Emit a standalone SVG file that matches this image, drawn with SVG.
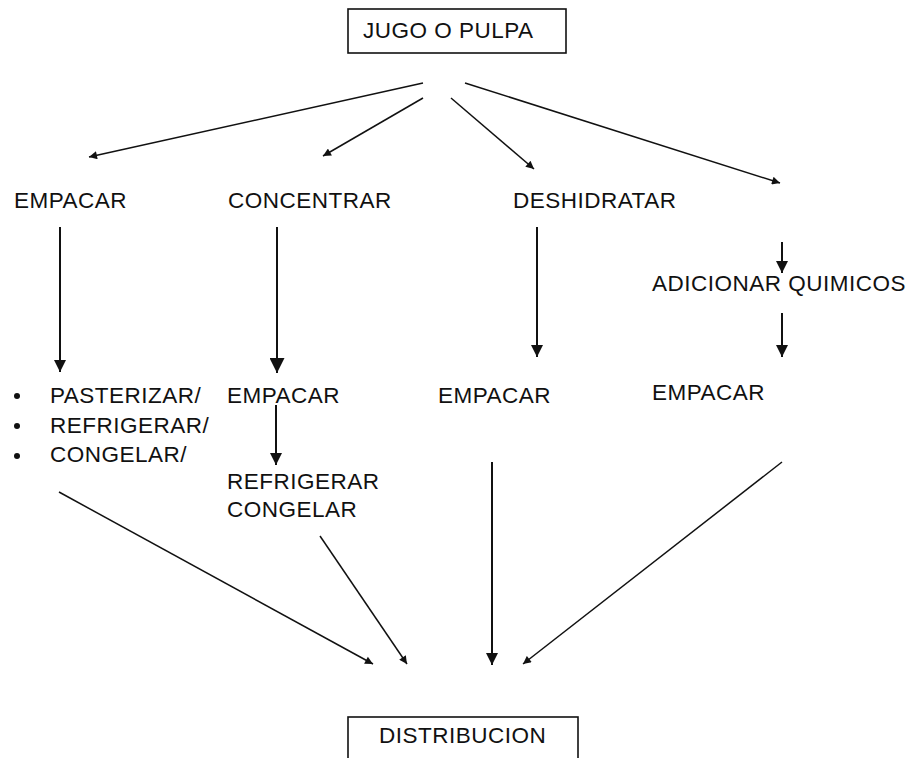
<svg xmlns="http://www.w3.org/2000/svg" width="917" height="758" viewBox="0 0 917 758">
<style>
text{font-family:"Liberation Sans",Arial,sans-serif;font-size:22.5px;letter-spacing:0.5px;fill:#111}
.box{fill:#fff;stroke:#111;stroke-width:1.6}
.c{stroke:#111;stroke-width:1.5;fill:none}
.v{stroke:#111;stroke-width:2;fill:none}
</style>
<defs>
<marker id="ah" viewBox="0 0 10 10" refX="10" refY="5" markerUnits="userSpaceOnUse" markerWidth="9" markerHeight="8" orient="auto"><path d="M0,0 L10,5 L0,10 z" fill="#111"/></marker>
<marker id="ahm" viewBox="0 0 10 10" refX="10" refY="5" markerUnits="userSpaceOnUse" markerWidth="12" markerHeight="12" orient="auto"><path d="M0,0 L10,5 L0,10 z" fill="#111"/></marker>
<marker id="ahl" viewBox="0 0 10 10" refX="10" refY="5" markerUnits="userSpaceOnUse" markerWidth="16" markerHeight="15" orient="auto"><path d="M0,0 L10,5 L0,10 z" fill="#111"/></marker>
</defs>
<rect width="917" height="758" fill="#fff"/>
<g id="connectors">
<line class="c" x1="423" y1="83" x2="89" y2="157" marker-end="url(#ah)"/>
<line class="c" x1="423" y1="98" x2="323" y2="156" marker-end="url(#ah)"/>
<line class="c" x1="451" y1="98" x2="534" y2="169" marker-end="url(#ah)"/>
<line class="c" x1="465" y1="83" x2="780" y2="183" marker-end="url(#ah)"/>
<line class="v" x1="60" y1="227" x2="60" y2="372" marker-end="url(#ahm)"/>
<line class="v" x1="277" y1="227" x2="277" y2="373" marker-end="url(#ahl)"/>
<line class="v" x1="537" y1="227" x2="537" y2="357" marker-end="url(#ahm)"/>
<line class="v" x1="782" y1="242" x2="782" y2="273" marker-end="url(#ahm)"/>
<line class="v" x1="782" y1="313" x2="782" y2="357" marker-end="url(#ahm)"/>
<line class="v" x1="276" y1="405" x2="276" y2="465" marker-end="url(#ahm)"/>
<line class="c" x1="59" y1="492" x2="373" y2="664" marker-end="url(#ah)"/>
<line class="c" x1="320" y1="536" x2="407" y2="664" marker-end="url(#ah)"/>
<line class="v" x1="492" y1="462" x2="492" y2="665" marker-end="url(#ahm)"/>
<line class="c" x1="782" y1="462" x2="523" y2="664" marker-end="url(#ah)"/>
</g>
<g id="jugo"><rect class="box" x="348" y="9" width="218" height="44"/><text x="363" y="38">JUGO O PULPA</text></g>
<g id="empacar1"><text x="14" y="208">EMPACAR</text></g>
<g id="concentrar"><text x="228" y="208">CONCENTRAR</text></g>
<g id="deshidratar"><text x="513" y="208">DESHIDRATAR</text></g>
<g id="adicionar"><text x="652" y="291">ADICIONAR QUIMICOS</text></g>
<g id="tratamientos">
<circle cx="17" cy="396" r="3" fill="#111"/><circle cx="17" cy="426" r="3" fill="#111"/><circle cx="17" cy="456" r="3" fill="#111"/>
<text x="50" y="403">PASTERIZAR/</text><text x="50" y="433">REFRIGERAR/</text><text x="50" y="462">CONGELAR/</text>
</g>
<g id="empacar2"><text x="227" y="403">EMPACAR</text></g>
<g id="empacar3"><text x="438" y="403">EMPACAR</text></g>
<g id="empacar4"><text x="652" y="400">EMPACAR</text></g>
<g id="refrigerar"><text x="227" y="489">REFRIGERAR</text><text x="227" y="517">CONGELAR</text></g>
<g id="distribucion"><rect class="box" x="348" y="717" width="230" height="50"/><text x="379" y="743">DISTRIBUCION</text></g>
</svg>
